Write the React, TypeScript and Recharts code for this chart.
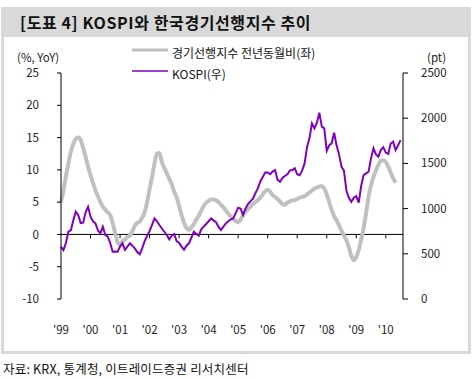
import React from "react";
import { LineChart, Line, XAxis, YAxis, ReferenceLine } from "recharts";

// months since Jan 1999
const leadingYoY = [
  5.0, 6.8, 9.0, 11.0, 12.8, 14.0, 14.8, 15.0, 14.6, 13.4, 12.0, 10.5,
  9.2, 8.0, 6.8, 5.9, 5.0, 4.3, 3.8, 3.4, 3.0, 1.8, 0.2, -1.2,
  -1.6, -1.0, -0.8, -0.4, -0.2, 0.5, 1.3, 1.8, 2.0, 2.6, 3.4, 5.0,
  7.0, 8.9, 11.0, 12.5, 12.6, 11.2, 10.3, 9.5, 8.6, 7.8, 6.6, 5.8,
  4.4, 3.0, 1.8, 1.0, 0.7, 1.1, 1.6, 2.3, 2.9, 3.7, 4.4, 4.9,
  5.2, 5.4, 5.4, 5.3, 5.0, 4.6, 4.2, 3.7, 3.2, 2.8, 2.4, 2.1,
  1.9, 2.3, 3.0, 3.5, 3.9, 4.3, 4.7, 5.0, 5.3, 5.7, 6.2, 6.7,
  6.9, 6.6, 6.1, 5.8, 5.5, 5.1, 4.7, 4.6, 4.9, 5.1, 5.3, 5.3,
  5.5, 5.7, 5.8, 5.9, 6.2, 6.5, 6.8, 7.1, 7.3, 7.4, 7.5, 7.1,
  6.2, 5.0, 3.8, 2.8, 2.2, 1.4, 0.6, -0.2, -0.9, -2.0, -3.3, -4.0,
  -3.5, -2.4, -0.8, 1.0, 3.3, 5.8, 7.6, 8.9, 9.9, 10.8, 11.4, 11.5,
  11.2, 10.5, 9.6, 8.7, 8.0,
];

const kospi = [
  578, 540, 620, 744, 760, 870, 966, 930, 840, 845, 960, 1021,
  910, 860, 837, 760, 726, 800, 708, 689, 620, 523, 525, 523,
  580, 616, 542, 580, 616, 590, 560, 520, 495, 560, 640, 700,
  750, 820, 892, 860, 818, 780, 744, 708, 660, 700, 719, 640,
  620, 580, 545, 590, 616, 680, 744, 720, 700, 770, 800, 830,
  860, 892, 870, 850, 800, 763, 800, 837, 860, 880, 892, 950,
  1010, 1000, 930, 1000, 1050, 1080, 1110, 1170, 1224, 1300, 1350, 1400,
  1400, 1380, 1410, 1427, 1320, 1297, 1340, 1360, 1380, 1420, 1427, 1445,
  1380, 1370, 1420, 1500, 1680, 1780, 1943, 1888, 1950, 2060, 1906, 1888,
  1640, 1700, 1722, 1839, 1700, 1600, 1463, 1420, 1200, 1120, 1076, 1120,
  1139, 1065, 1250, 1371, 1390, 1408, 1556, 1667, 1600, 1574, 1650, 1678,
  1620, 1604, 1720, 1740, 1648, 1700, 1758,
];

const yearTicks = [0, 12, 24, 36, 48, 60, 72, 84, 96, 108, 120, 132];
const yearLabels = ["'99", "'00", "'01", "'02", "'03", "'04", "'05", "'06", "'07", "'08", "'09", "'10"];
const leftTicks = [-10, -5, 0, 5, 10, 15, 20, 25];
const rightTicks = [0, 500, 1000, 1500, 2000, 2500];

const data = kospi.map((k, i) => ({
  m: i,
  lead: i < leadingYoY.length ? leadingYoY[i] : null,
  kospi: k,
}));

const FONT = "'Noto Sans CJK KR', 'Noto Sans', sans-serif";
const GRAY = "#c0c0c0";
const PURPLE = "#8000c0";

const YearTick = (props: any) => {
  const { x, y, payload } = props;
  const idx = yearTicks.indexOf(payload.value);
  return (
    <text x={x} y={y} dy={33} textAnchor="middle" fontSize={11.5} fill="#222" fontFamily={FONT}>
      {yearLabels[idx]}
    </text>
  );
};

export default function App() {
  return (
    <div style={{ position: "absolute", left: 0, top: 0, width: 474, height: 378, background: "#fff", fontFamily: FONT }}>
      <div style={{ position: "absolute", left: 1, top: 7, width: 470, height: 30, background: "#d9d9d9" }} />
      <div
        style={{
          position: "absolute",
          left: 1,
          top: 37,
          width: 470,
          height: 317,
          boxSizing: "border-box",
          border: "3px solid #d9d9d9",
          borderTop: "none",
        }}
      />
      <div style={{ position: "absolute", left: 20, top: 10, fontSize: 16, fontWeight: 700, letterSpacing: 0.6, color: "#111", whiteSpace: "nowrap" }}>
        [도표 4] KOSPI와 한국경기선행지수 추이
      </div>
      <div style={{ position: "absolute", left: 17, top: 49, fontSize: 11.5, color: "#222" }}>(%, YoY)</div>
      <div style={{ position: "absolute", left: 427, top: 49, fontSize: 11.5, color: "#222" }}>(pt)</div>

      <LineChart
        width={474}
        height={378}
        data={data}
        margin={{ top: 73, right: 0, bottom: 0, left: 0 }}
        style={{ position: "absolute", left: 0, top: 0 }}
      >
        <XAxis
          dataKey="m"
          type="number"
          domain={[0, 139]}
          ticks={yearTicks}
          height={79}
          axisLine={false}
          tickLine={false}
          tickSize={0}
          tick={<YearTick />}
          interval={0}
        />
        <YAxis
          yAxisId="left"
          domain={[-10, 25]}
          ticks={leftTicks}
          width={61}
          axisLine={{ stroke: "#000" }}
          tickLine={{ stroke: "#000" }}
          tickSize={4}
          tickMargin={18}
          tick={{ fontSize: 11.5, fill: "#222", fontFamily: FONT }}
          interval={0}
        />
        <YAxis
          yAxisId="right"
          orientation="right"
          domain={[0, 2500]}
          ticks={rightTicks}
          width={71}
          axisLine={{ stroke: "#000" }}
          tickLine={{ stroke: "#000" }}
          tickSize={5}
          tickMargin={13}
          tick={{ fontSize: 11.5, fill: "#222", fontFamily: FONT, textAnchor: "start" }}
          interval={0}
        />
        <ReferenceLine yAxisId="left" y={0} stroke="#000" strokeWidth={1} />
        {yearTicks.slice(1).map((t) => (
          <ReferenceLine
            key={t}
            yAxisId="left"
            segment={[
              { x: t, y: 0 },
              { x: t, y: -0.6 },
            ]}
            stroke="#000"
          />
        ))}
        <Line
          yAxisId="left"
          dataKey="lead"
          stroke={GRAY}
          strokeWidth={4}
          dot={false}
          type="monotone"
          isAnimationActive={false}
          connectNulls={false}
        />
        <Line
          yAxisId="right"
          dataKey="kospi"
          stroke={PURPLE}
          strokeWidth={2}
          dot={false}
          type="linear"
          isAnimationActive={false}
        />
      </LineChart>

      <svg style={{ position: "absolute", left: 0, top: 0 }} width={474} height={90}>
        <line x1={132} x2={168} y1={50} y2={50} stroke={GRAY} strokeWidth={3} />
        <line x1={132} x2={168} y1={71} y2={71} stroke={PURPLE} strokeWidth={1.5} />
      </svg>
      <div style={{ position: "absolute", left: 172, top: 44, fontSize: 12, color: "#111", whiteSpace: "nowrap" }}>
        경기선행지수 전년동월비(좌)
      </div>
      <div style={{ position: "absolute", left: 172, top: 65, fontSize: 12, color: "#111", whiteSpace: "nowrap" }}>
        KOSPI(우)
      </div>
      <div style={{ position: "absolute", left: 3, top: 359, fontSize: 12.5, letterSpacing: 0.2, color: "#111", whiteSpace: "nowrap" }}>
        자료: KRX, 통계청, 이트레이드증권 리서치센터
      </div>
    </div>
  );
}
